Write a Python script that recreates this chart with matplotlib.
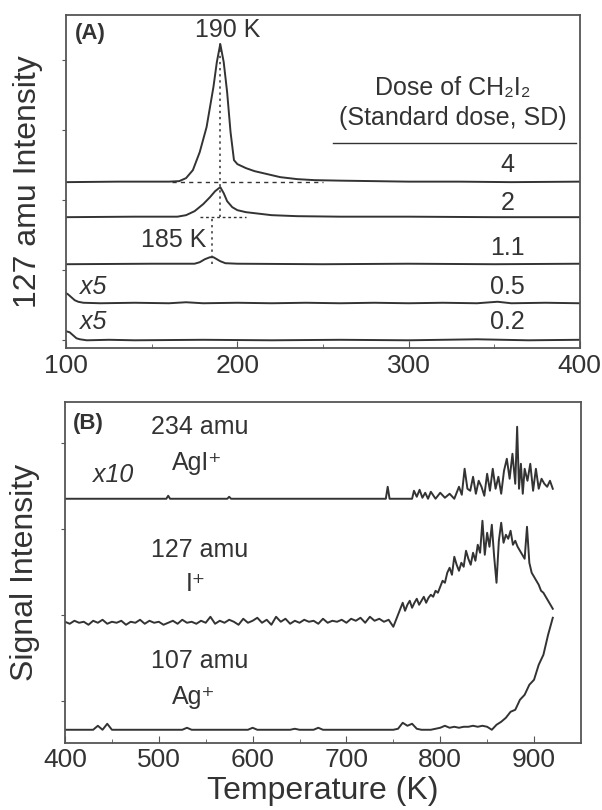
import numpy as np
import matplotlib
matplotlib.use("Agg")
import matplotlib.pyplot as plt

plt.rcParams['font.family'] = ['Liberation Sans', 'DejaVu Sans']

INK = '#333333'

# ---- panel A : 127 amu TPD after CH2I2 doses (offset traces) ----
doses = ['4', '2', '1.1', '0.5', '0.2']
baselines_a = [166, 131, 84, 45, 8]

x_4 = [100, 130, 160, 166, 170, 174, 178, 182, 186, 188, 190, 192, 194, 196, 198, 200,
       205, 210, 215, 225, 235, 245, 260, 280, 300, 330, 360, 400]
y_4 = [0, 0.5, 0.5, 1, 4, 12, 30, 55, 95, 120, 138, 120, 90, 50, 22, 18,
       14, 11, 9, 5, 3, 2, 1.5, 1, 0.5, 0.5, 0, 0.5]

x_2 = [100, 140, 165, 170, 175, 180, 184, 187, 190, 192, 194, 197, 200, 205, 210, 220,
       235, 260, 300, 350, 400]
y_2 = [0, 0.5, 0.5, 2, 6, 13, 20, 26, 30, 24, 16, 10, 7, 5, 4, 2,
       1, 0.5, 0.5, 0, 0]

x_11 = [100, 150, 175, 178, 181, 184, 186, 188, 190, 193, 200, 250, 300, 350, 400]
y_11 = [0, 0.5, 0.5, 2, 5, 7, 7, 5, 3, 1, 0.5, 0, 0.5, 0, 0.5]

x_05 = [100, 101, 103, 105, 107, 110, 120, 140, 160, 170, 175, 180, 200, 220, 240, 260,
        280, 300, 320, 340, 352, 360, 380, 400]
y_05 = [10, 9, 6, 3, 1.5, 0.5, 0, 0.5, 0, 1, 0.5, 0, 0.5, 0, 0.5, 0,
        0.5, 0, 0.5, 0, 1.5, 0, 0.5, 0]

x_02 = [100, 102, 104, 106, 108, 112, 125, 140, 180, 220, 260, 300, 340, 370, 400]
y_02 = [9, 8, 5, 2, 1, 0, 0.5, 0, 0.5, 0, 0.5, 0, 1, 0, 0.5]

traces_a = [(x_4, y_4), (x_2, y_2), (x_11, y_11), (x_05, y_05), (x_02, y_02)]

# ---- panel B : high temperature desorption ----
baseline_agi, baseline_i, baseline_ag = 244, 120, 13

x_agi = [400, 508, 510, 512, 573, 575, 577, 742, 744, 746, 770, 772, 775, 778, 781, 784,
         787, 790, 795, 800, 805, 810, 815, 820, 823, 826, 829, 832, 835, 838, 841, 844,
         847, 850, 853, 856, 859, 862, 865, 868, 871, 874, 877, 880, 882, 884, 886, 888,
         890, 893, 896, 899, 902, 905, 908, 911, 914, 917, 920]
y_agi = [0, 0, 3, 0, 0, 2, 0, 0, 12, 0, 0, 8, 2, 9, 1, 6,
         0, 7, 0, 6, 1, 5, 0, 12, 4, 30, 10, 8, 22, 5, 18, 12,
         3, 25, 8, 30, 10, 22, 5, 28, 40, 20, 45, 15, 72, 10, 35, 5,
         30, 18, 35, 8, 30, 10, 20, 15, 12, 18, 10]

# I+ : 5 K steps up to 745 K, 2.5 K steps above
x_i = list(range(400, 750, 5)) + [750 + 2.5 * k for k in range(69)]
y_i = [1, -1, 2, 0, 1, -2, 2, 0, 3, -1, 1, 0, 2, -2, 1, 0, 3, -1, 2, 0,
       1, -2, 0, 2, -1, 3, 0, 1, -1, 2, 0, 6, -1, 2, 0, 3, 1, -2, 4, 0,
       2, 5, 0, 3, -2, 6, 1, 4, -1, 2, 0, 3, 1, 2, -1, 4, 0, 2, 1, 3,
       0, 4, 2, 5, 0, 6, 2, 4, 1, 3,
       -4, 2, 8, 14, 20, 12, 18, 22, 15, 20, 24, 18, 22, 26, 20, 25, 28, 26, 32, 30,
       36, 42, 40, 50, 55, 48, 66, 58, 52, 60, 56, 72, 64, 58, 70, 62, 78, 70, 102, 68,
       90, 76, 98, 66, 40, 82, 100, 80, 88, 84, 92, 78, 82, 76, 72, 68, 64, 96, 60, 50,
       46, 42, 38, 32, 30, 26, 22, 18, 14]

x_ag = list(range(400, 921, 5))
y_ag = [0, 0, 0, 0, 0, 0, 0, 4, 0, 6, 0, 0, 0, 0, 0, 0, 0, 0, 0, 0,
        0, 0, 0, 0, 0, 0, 2, 0, 0, 0, 0, 0, 0, 0, 0, 0, 0, 0, 0, 0,
        2, 0, 0, 0, 0, 0, 0, 0, 0, 1, 0, 0, 0, 0, 2, 0, 0, 0, 0, 0,
        0, 0, 0, 0, 0, 0, 0, 0, 0, 0,
        0, 1, 7, 4, 6, 1, 0, 0, 0, 1, 2, 4, 2, 3, 2, 3, 3, 4, 3, 4,
        3, 0, 5, 8, 12, 18, 20, 30, 35, 45, 50, 65, 75, 95, 112]

FS_TXT = 18
FS_TICK = 19
FS_LAB = 23

fig = plt.figure(figsize=(6.02, 8.10), dpi=100)
ax1 = fig.add_axes([0.110, 0.570, 0.853, 0.4115])
ax2 = fig.add_axes([0.108, 0.083, 0.857, 0.421])

for (xs, ys), b in zip(traces_a, baselines_a):
    ax1.plot(xs, np.array(ys) + b, color=INK, lw=1.4)

# guide lines at the peaks
ax1.plot([190, 190], [131, 305], color=INK, lw=1.1, ls=(0, (1.5, 2.5)))
ax1.plot([185, 185], [84, 131], color=INK, lw=1.1, ls=(0, (1.5, 2.5)))
ax1.plot([162, 250], [166, 166], color=INK, lw=1.0, ls=(0, (3, 3)))
ax1.plot([178, 205], [131, 131], color=INK, lw=1.0, ls=(0, (2, 2)))
ax1.plot([256, 398], [205, 205], color=INK, lw=1.0)

ax1.text(114, 315, '(A)', ha='center', va='center', fontsize=16, fontweight='bold', color=INK)
ax1.text(194.6, 318, '190 K', ha='center', va='center', fontsize=FS_TXT, color=INK)
ax1.text(182, 108, '185 K', ha='right', va='center', fontsize=FS_TXT, color=INK)
ax1.text(326, 260, 'Dose of CH₂I₂', ha='center', va='center', fontsize=FS_TXT, color=INK)
ax1.text(326, 230, '(Standard dose, SD)', ha='center', va='center', fontsize=FS_TXT, color=INK)
for lab, yy in zip(doses, [183, 145, 100, 61, 26]):
    ax1.text(358, yy, lab, ha='center', va='center', fontsize=FS_TXT, color=INK)
for yy in [61, 26]:
    ax1.text(116, yy, 'x5', ha='center', va='center', fontsize=FS_TXT, style='italic', color=INK)

ax1.set_xlim(100, 400)
ax1.set_ylim(0, 333)
ax1.set_xticks([100, 200, 300, 400])
ax1.set_xticks([150, 250, 350], minor=True)
ax1.set_yticks([8, 78, 148, 218, 288])
ax1.set_yticklabels([])
ax1.set_ylabel('127 amu Intensity', fontsize=FS_LAB, color=INK)
ax1.yaxis.set_label_coords(-0.046, 0.5)

ax2.plot(x_agi, np.array(y_agi) + baseline_agi, color=INK, lw=1.4)
ax2.plot(x_i, np.array(y_i) + baseline_i, color=INK, lw=1.4)
ax2.plot(x_ag, np.array(y_ag) + baseline_ag, color=INK, lw=1.4)

ax2.text(425, 319, '(B)', ha='center', va='center', fontsize=16, fontweight='bold', color=INK)
ax2.text(544, 316, '234 amu', ha='center', va='center', fontsize=FS_TXT, color=INK)
ax2.text(541, 280, 'AgI⁺', ha='center', va='center', fontsize=FS_TXT, color=INK)
ax2.text(451, 268, 'x10', ha='center', va='center', fontsize=FS_TXT, style='italic', color=INK)
ax2.text(544, 193, '127 amu', ha='center', va='center', fontsize=FS_TXT, color=INK)
ax2.text(539, 159, 'I⁺', ha='center', va='center', fontsize=FS_TXT, color=INK)
ax2.text(544, 82, '107 amu', ha='center', va='center', fontsize=FS_TXT, color=INK)
ax2.text(537, 46, 'Ag⁺', ha='center', va='center', fontsize=FS_TXT, color=INK)

ax2.set_xlim(400, 950)
ax2.set_ylim(0, 341)
ax2.set_xticks([400, 500, 600, 700, 800, 900])
ax2.set_xticks([450, 550, 650, 750, 850], minor=True)
ax2.set_yticks([42, 128, 214, 300])
ax2.set_yticklabels([])
ax2.set_ylabel('Signal Intensity', fontsize=FS_LAB, color=INK)
ax2.yaxis.set_label_coords(-0.048, 0.5)
ax2.set_xlabel('Temperature (K)', fontsize=FS_LAB, color=INK, labelpad=3)

for ax in (ax1, ax2):
    for sp in ax.spines.values():
        sp.set_color('#555555')
        sp.set_linewidth(1.3)
    ax.tick_params(axis='x', which='major', direction='in', length=5, labelsize=FS_TICK,
                   colors='#555555', labelcolor=INK, pad=4)
    ax.tick_params(axis='x', which='minor', direction='in', length=3, colors='#555555')
    ax.tick_params(axis='y', direction='out', length=3, colors='#555555')

fig.savefig('out.png', dpi=100)
